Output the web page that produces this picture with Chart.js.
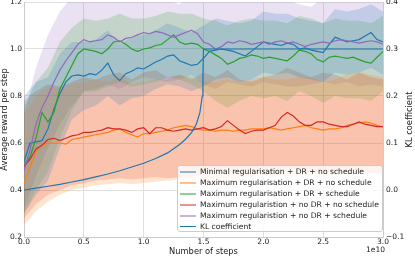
<!DOCTYPE html>
<html>
<head>
<meta charset="utf-8">
<script src="https://cdn.jsdelivr.net/npm/chart.js@4.4.1/dist/chart.umd.min.js"></script>
<style>
  body { margin: 0; background: #fff; }
  #wrap { position: relative; width: 415px; height: 257px; }
  #legend {
    position: absolute; left: 177px; top: 165px; width: 206px; height: 67px;
    box-sizing: border-box; padding-top: 0px;
    background: rgba(255,255,255,0.8); border: 1px solid #cccccc; border-radius: 3px;
    font: 7.6px "DejaVu Sans", sans-serif; color: #222;
  }
  .row { display: flex; align-items: center; height: 11px; white-space: nowrap; }
  .handle { width: 16px; margin-left: 2px; margin-right: 4px; }
</style>
</head>
<body>
<div id="wrap">
  <canvas id="chart" width="415" height="257"></canvas>
  <div id="legend"></div>
</div>
<script>
// x grids (in units of 1e10 steps)
const fineSteps = [0,0.05,0.1,0.15,0.2,0.25,0.3,0.35,0.4,0.45,0.5,0.55,0.6,0.65,0.7,0.75,0.8,0.85,0.9,0.95,
  1.0,1.05,1.1,1.15,1.2,1.25,1.3,1.35,1.4,1.45,1.5,1.55,1.6,1.65,1.7,1.75,1.8,1.85,1.9,1.95,
  2.0,2.05,2.1,2.15,2.2,2.25,2.3,2.35,2.4,2.45,2.5,2.55,2.6,2.65,2.7,2.75,2.8,2.85,2.9,2.95,3.0];
const coarseSteps = [0,0.1,0.2,0.3,0.4,0.5,0.6,0.7,0.8,0.9,1.0,1.1,1.2,1.3,1.4,1.5,1.6,1.7,1.8,1.9,
  2.0,2.1,2.2,2.3,2.4,2.5,2.6,2.7,2.8,2.9,3.0];

const seriesLabels = [
  'Minimal regularisation + DR + no schedule',
  'Maximum regularisation + DR + no schedule',
  'Maximum regularisation + DR + schedule',
  'Maximum regularistion + no DR + no schedule',
  'Maximum regularistion + no DR + schedule'
];
const klLabel = 'KL coefficient';
const seriesColors = ['#1f77b4', '#ff7f0e', '#2ca02c', '#d62728', '#9467bd'];

// mean reward per step
const minimalMean = [0.52,0.60,0.605,0.61,0.66,0.745,0.81,0.86,0.885,0.89,
  0.885,0.895,0.89,0.91,0.94,0.89,0.865,0.895,0.905,0.92,
  0.915,0.93,0.945,0.955,0.97,0.975,0.95,0.94,0.93,0.935,
  0.96,0.99,0.995,1.0,0.995,0.99,0.98,0.97,0.99,1.01,
  1.03,1.025,1.02,1.015,1.025,1.02,1.0,1.005,0.995,0.99,
  0.985,1.02,1.05,1.04,1.03,1.035,1.04,1.055,1.07,1.04,1.03];
const maxDrNoSchedMean = [0.43,0.50,0.56,0.59,0.60,0.60,0.60,0.595,0.615,0.62,
  0.625,0.63,0.635,0.64,0.645,0.655,0.66,0.645,0.635,0.625,
  0.64,0.64,0.645,0.65,0.655,0.665,0.67,0.675,0.67,0.66,
  0.655,0.655,0.65,0.655,0.655,0.65,0.655,0.655,0.66,0.66,
  0.66,0.665,0.66,0.655,0.66,0.665,0.67,0.675,0.665,0.66,
  0.655,0.66,0.66,0.665,0.675,0.68,0.685,0.69,0.685,0.675,0.668];
const maxDrSchedMean = [0.51,0.54,0.62,0.73,0.69,0.73,0.83,0.88,0.93,0.98,
  1.0,0.995,0.99,0.98,1.0,1.03,1.035,1.02,1.0,0.99,
  1.0,1.005,1.015,1.02,1.04,1.06,1.03,1.02,1.025,1.02,
  1.0,0.99,0.975,0.96,0.935,0.945,0.96,0.965,0.975,0.97,
  0.96,0.965,0.96,0.955,0.95,0.97,0.995,0.99,0.98,0.955,
  0.945,0.965,0.97,0.965,0.96,0.965,0.955,0.945,0.94,0.965,0.99];
const maxNoDrNoSchedMean = [0.50,0.53,0.575,0.59,0.615,0.62,0.61,0.62,0.63,0.635,
  0.645,0.645,0.65,0.655,0.665,0.66,0.66,0.655,0.645,0.66,
  0.665,0.64,0.665,0.665,0.655,0.65,0.655,0.66,0.655,0.66,
  0.665,0.655,0.66,0.67,0.695,0.675,0.655,0.64,0.65,0.655,
  0.655,0.665,0.675,0.71,0.73,0.715,0.69,0.675,0.675,0.69,
  0.69,0.68,0.675,0.67,0.67,0.68,0.69,0.68,0.675,0.67,0.67];
const maxNoDrSchedMean = [0.482,0.57,0.68,0.75,0.80,0.86,0.91,0.95,0.985,1.02,
  1.04,1.03,1.035,1.04,1.06,1.05,1.03,1.045,1.05,1.06,
  1.07,1.065,1.075,1.07,1.06,1.05,1.06,1.07,1.08,1.065,
  1.03,1.02,1.0,1.01,1.03,1.025,1.035,1.03,1.02,1.025,
  1.03,1.02,1.03,1.035,1.025,1.03,1.02,1.01,1.02,1.025,
  1.03,1.025,1.035,1.04,1.035,1.03,1.025,1.03,1.035,1.03,1.02];

// spread bands (on coarseSteps)
const minimalLow  = [0.30,0.38,0.44,0.58,0.70,0.74,0.76,0.80,0.76,0.79,0.80,0.83,0.85,0.84,0.82,0.84,0.87,0.88,0.86,0.87,0.90,0.89,0.90,0.88,0.87,0.86,0.90,0.89,0.90,0.92,0.89];
const minimalHigh = [0.80,0.86,0.88,0.98,1.03,1.03,1.04,1.08,1.02,1.05,1.06,1.08,1.11,1.09,1.07,1.10,1.13,1.12,1.11,1.12,1.16,1.15,1.15,1.13,1.12,1.11,1.17,1.16,1.17,1.19,1.16];
const maxDrNoSchedLow  = [0.25,0.31,0.35,0.38,0.40,0.41,0.42,0.425,0.43,0.425,0.43,0.435,0.44,0.445,0.445,0.44,0.445,0.45,0.45,0.455,0.455,0.46,0.455,0.46,0.465,0.46,0.46,0.47,0.47,0.475,0.46];
const maxDrNoSchedHigh = [0.72,0.80,0.84,0.83,0.85,0.86,0.87,0.86,0.88,0.85,0.86,0.87,0.87,0.89,0.88,0.86,0.86,0.87,0.86,0.87,0.88,0.87,0.87,0.88,0.88,0.86,0.87,0.89,0.90,0.89,0.88];
const maxDrSchedLow  = [0.30,0.40,0.48,0.62,0.74,0.82,0.82,0.84,0.86,0.84,0.85,0.86,0.88,0.87,0.85,0.82,0.78,0.75,0.78,0.80,0.79,0.80,0.78,0.82,0.80,0.77,0.80,0.79,0.79,0.78,0.82];
const maxDrSchedHigh = [0.75,0.86,0.92,1.03,1.09,1.13,1.12,1.13,1.15,1.13,1.13,1.14,1.16,1.15,1.15,1.13,1.12,1.10,1.12,1.13,1.12,1.12,1.11,1.14,1.13,1.11,1.13,1.12,1.12,1.11,1.14];
const maxNoDrNoSchedLow  = [0.28,0.34,0.38,0.40,0.42,0.43,0.44,0.445,0.45,0.445,0.45,0.455,0.45,0.455,0.46,0.465,0.47,0.48,0.47,0.465,0.47,0.475,0.49,0.48,0.475,0.48,0.475,0.47,0.48,0.475,0.47];
const maxNoDrNoSchedHigh = [0.78,0.82,0.85,0.84,0.86,0.88,0.87,0.89,0.90,0.87,0.90,0.91,0.88,0.89,0.87,0.90,0.88,0.91,0.87,0.86,0.88,0.89,0.92,0.90,0.88,0.90,0.89,0.87,0.90,0.88,0.87];
const maxNoDrSchedLow  = [0.32,0.46,0.58,0.68,0.76,0.82,0.83,0.85,0.83,0.86,0.88,0.87,0.86,0.87,0.89,0.85,0.83,0.86,0.85,0.84,0.86,0.85,0.84,0.84,0.85,0.86,0.85,0.86,0.84,0.85,0.84];
const maxNoDrSchedHigh = [0.72,0.92,1.06,1.16,1.22,1.25,1.24,1.26,1.23,1.24,1.22,1.25,1.21,1.19,1.23,1.22,1.25,1.24,1.23,1.24,1.22,1.23,1.21,1.19,1.18,1.22,1.24,1.23,1.25,1.24,1.22];

// KL coefficient schedule (right axis)
const klSteps  = [0,0.1,0.2,0.3,0.4,0.5,0.6,0.7,0.8,0.9,1.0,1.1,1.2,1.3,1.35,1.4,1.44,1.47,1.49,1.495,1.5,3.0];
const klValues = [0,0.004,0.008,0.012,0.017,0.022,0.028,0.034,0.041,0.049,0.057,0.067,0.079,0.097,0.108,0.122,0.14,0.165,0.2,0.24,0.3,0.3];

const means = [minimalMean, maxDrNoSchedMean, maxDrSchedMean, maxNoDrNoSchedMean, maxNoDrSchedMean];
const lows  = [minimalLow, maxDrNoSchedLow, maxDrSchedLow, maxNoDrNoSchedLow, maxNoDrSchedLow];
const highs = [minimalHigh, maxDrNoSchedHigh, maxDrSchedHigh, maxNoDrNoSchedHigh, maxNoDrSchedHigh];
const lineOrder = [5, 4, 3, 2, 1];

const FONT = '"DejaVu Sans", sans-serif';
const TXT = '#1a1a1a';

function rgba(hex, a) {
  const n = parseInt(hex.slice(1), 16);
  return `rgba(${n >> 16},${(n >> 8) & 255},${n & 255},${a})`;
}
const pts = (xs, ys) => xs.map((x, i) => ({ x: x, y: ys[i] }));

const datasets = [];
datasets.push({
  label: klLabel, data: pts(klSteps, klValues), yAxisID: 'y2',
  borderColor: '#1f77b4', borderWidth: 1.2, fill: false, order: 0
});
means.forEach((m, i) => {
  datasets.push({
    label: seriesLabels[i], data: pts(fineSteps, m), yAxisID: 'y',
    borderColor: seriesColors[i], borderWidth: 1.2, fill: false, order: lineOrder[i]
  });
});
means.forEach((m, i) => {
  const lowIdx = datasets.length + 1;
  datasets.push({
    data: pts(coarseSteps, highs[i]), yAxisID: 'y', borderWidth: 0, borderColor: 'transparent',
    backgroundColor: rgba(seriesColors[i], 0.2), fill: lowIdx, order: 20 + i
  });
  datasets.push({
    data: pts(coarseSteps, lows[i]), yAxisID: 'y', borderWidth: 0, borderColor: 'transparent',
    fill: false, order: 20 + i
  });
});

const extraText = {
  id: 'extraText',
  afterDraw(chart) {
    const { ctx, chartArea } = chart;
    ctx.save();
    ctx.fillStyle = TXT;
    ctx.font = '8.3px ' + FONT;
    ctx.textAlign = 'center';
    ctx.textBaseline = 'middle';
    ctx.translate(chartArea.right + 27, (chartArea.top + chartArea.bottom) / 2);
    ctx.rotate(-Math.PI / 2);
    ctx.fillText(klLabel, 0, 0);
    ctx.restore();
    ctx.save();
    ctx.fillStyle = TXT;
    ctx.font = '7.5px ' + FONT;
    ctx.textAlign = 'right';
    ctx.textBaseline = 'middle';
    ctx.fillText('1e10', chartArea.right + 2, 250);
    ctx.restore();
  }
};

const tickFont = { family: FONT, size: 7.5 };
const titleFont = { family: FONT, size: 8.3 };

new Chart(document.getElementById('chart'), {
  type: 'line',
  data: { datasets: datasets },
  plugins: [extraText],
  options: {
    responsive: false,
    animation: false,
    devicePixelRatio: 1,
    layout: { padding: { top: 2, left: 0, right: 0, bottom: 0 } },
    elements: { point: { radius: 0 }, line: { tension: 0 } },
    plugins: { legend: { display: false }, tooltip: { enabled: false } },
    scales: {
      x: {
        type: 'linear', min: 0, max: 3,
        ticks: { stepSize: 0.5, padding: 1, color: TXT, font: tickFont, maxRotation: 0,
                 callback: v => v.toFixed(1) },
        grid: { color: '#e0e0e0', drawTicks: false },
        border: { color: '#cccccc' },
        title: { display: true, text: 'Number of steps', color: TXT, font: titleFont, padding: 0 },
        afterFit: s => { s.height = 20; }
      },
      y: {
        position: 'left', min: 0.2, max: 1.2,
        ticks: { stepSize: 0.2, padding: 2, color: TXT, font: tickFont, callback: v => v.toFixed(1) },
        grid: { color: '#e0e0e0', drawTicks: false },
        border: { color: '#cccccc' },
        title: { display: true, text: 'Average reward per step', color: TXT, font: titleFont, padding: 0 },
        afterFit: s => { s.width = 24; s.paddingTop = 0; s.paddingBottom = 0; }
      },
      y2: {
        position: 'right', min: -0.1, max: 0.4,
        ticks: { stepSize: 0.1, padding: 3, color: TXT, font: tickFont,
                 callback: v => v.toFixed(1).replace('-', '\u2212') },
        grid: { display: false, drawTicks: false },
        border: { color: '#cccccc' },
        afterFit: s => { s.width = 32; s.paddingTop = 0; s.paddingBottom = 0; }
      }
    }
  }
});

// legend drawn as html on top of the plot
const legend = document.getElementById('legend');
const legendItems = seriesLabels.map((l, i) => ({ text: l, color: rgba(seriesColors[i], 0.5), h: 2 }))
  .concat([{ text: klLabel, color: '#1f77b4', h: 1.3 }]);
legendItems.forEach(it => {
  const row = document.createElement('div');
  row.className = 'row';
  const h = document.createElement('span');
  h.className = 'handle';
  h.style.height = it.h + 'px';
  h.style.background = it.color;
  const t = document.createElement('span');
  t.textContent = it.text;
  row.appendChild(h);
  row.appendChild(t);
  legend.appendChild(row);
});
</script>
</body>
</html>
